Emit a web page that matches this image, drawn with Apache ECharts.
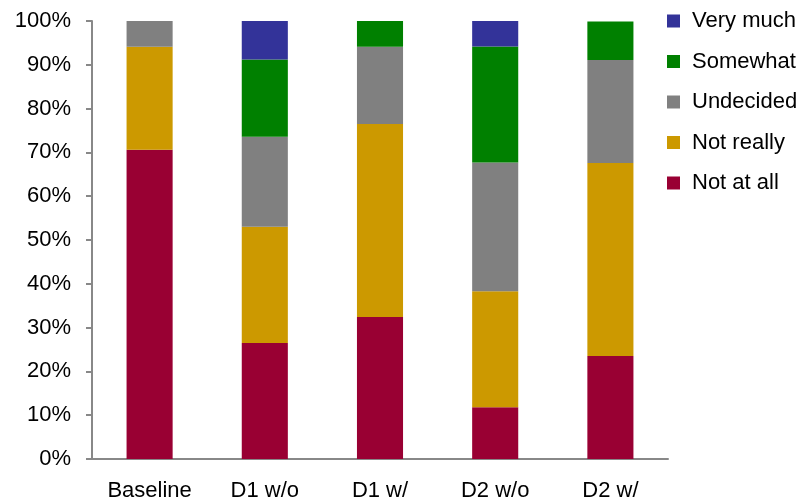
<!DOCTYPE html>
<html>
<head>
<meta charset="utf-8">
<style>
  html, body { margin: 0; padding: 0; background: #ffffff; }
  #chart { width: 810px; height: 504px; }
</style>
<script src="https://cdn.jsdelivr.net/npm/echarts@6/dist/echarts.min.js"></script>
</head>
<body>
<div id="chart"></div>
<script>
// Conditions shown along the x axis
const categories = ['Baseline', 'D1 w/o', 'D1 w/', 'D2 w/o', 'D2 w/'];

// Share of responses (%) per answer, one array per answer
const notAtAll   = [70.6, 26.5, 32.4, 11.8, 23.5];
const notReally  = [23.5, 26.5, 44.1, 26.5, 44.1];
const undecided  = [5.9, 20.6, 17.6, 29.4, 23.5];
const somewhat   = [0, 17.6, 5.9, 26.5, 8.8];
const veryMuch   = [0, 8.8, 0, 5.9, 0];

const yTicks = [0, 10, 20, 30, 40, 50, 60, 70, 80, 90, 100];

const seriesDefs = [
  { name: 'Not at all', data: notAtAll,  color: '#990033' },
  { name: 'Not really', data: notReally, color: '#CC9900' },
  { name: 'Undecided',  data: undecided, color: '#808080' },
  { name: 'Somewhat',   data: somewhat,  color: '#008000' },
  { name: 'Very much',  data: veryMuch,  color: '#333399' }
];

const font = 'Liberation Sans, Arial, sans-serif';
const chart = echarts.init(document.getElementById('chart'), null, { renderer: 'canvas' });

chart.setOption({
  animation: false,
  textStyle: { fontFamily: font },
  grid: { left: 92, right: 142, top: 21, bottom: 45, containLabel: false },
  legend: {
    orient: 'vertical',
    left: 662,
    top: 5,
    itemWidth: 13,
    itemHeight: 13,
    itemGap: 18.5,
    icon: 'rect',
    data: seriesDefs.map(s => s.name).reverse(),
    textStyle: { fontSize: 22, color: '#000', fontFamily: font, padding: [0, 0, 0, 7] }
  },
  xAxis: {
    type: 'category',
    data: categories,
    axisLine: { lineStyle: { color: '#888888', width: 2 } },
    axisTick: { show: false },
    axisLabel: { color: '#000', fontSize: 22, margin: 21, interval: 0, fontFamily: font }
  },
  yAxis: {
    type: 'value',
    min: 0,
    max: 100,
    interval: 10,
    splitLine: { show: false },
    axisLine: { show: true, lineStyle: { color: '#888888', width: 2 } },
    axisTick: { show: true, inside: false, length: 6, lineStyle: { color: '#888888', width: 2 } },
    axisLabel: {
      color: '#000', fontSize: 22, margin: 21, fontFamily: font,
      formatter: v => (yTicks.indexOf(v) >= 0 ? v + '%' : '')
    }
  },
  series: seriesDefs.map(s => ({
    name: s.name,
    type: 'bar',
    stack: 'total',
    barWidth: '40%',
    data: s.data,
    itemStyle: { color: s.color },
    emphasis: { disabled: true }
  }))
});
</script>
</body>
</html>
